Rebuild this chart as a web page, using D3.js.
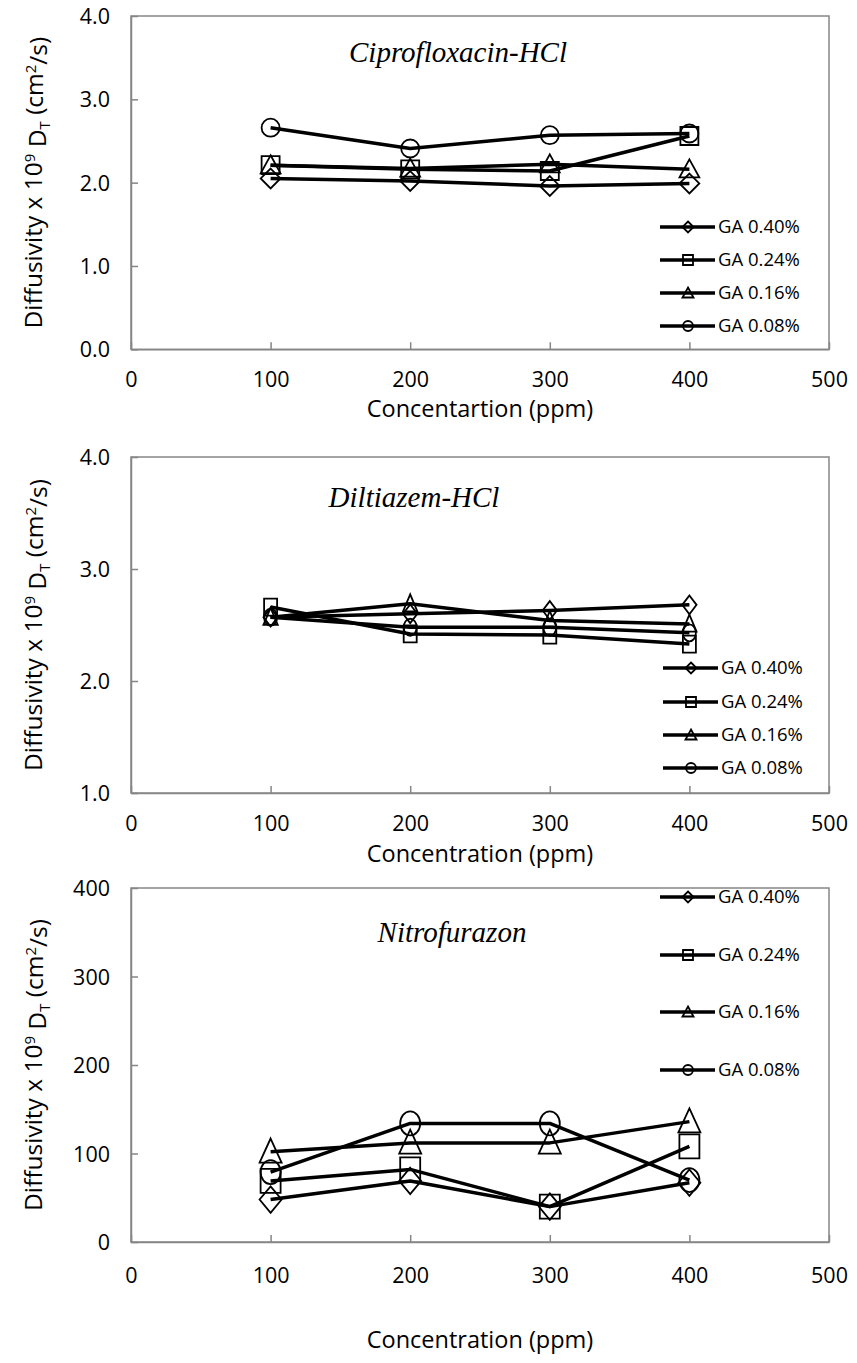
<!DOCTYPE html>
<html>
<head>
<meta charset="utf-8">
<script src="https://cdn.jsdelivr.net/npm/d3@7"></script>
<style>
  body { margin: 0; background: #fff; }
  svg { display: block; }
</style>
</head>
<body>
<script>
/* DATA */
var concentrations = [100, 200, 300, 400];
var seriesNames = ['GA 0.40%', 'GA 0.24%', 'GA 0.16%', 'GA 0.08%'];
var seriesShapes = ['diamond', 'square', 'triangle', 'circle'];
var xTicks = [0, 100, 200, 300, 400, 500];

// Ciprofloxacin-HCl
var cipro040 = [2.05, 2.02, 1.96, 1.99];
var cipro024 = [2.21, 2.16, 2.14, 2.56];
var cipro016 = [2.21, 2.17, 2.22, 2.16];
var cipro008 = [2.66, 2.41, 2.57, 2.59];
var ciproTicks = [0, 1, 2, 3, 4];

// Diltiazem-HCl
var dilt040 = [2.57, 2.60, 2.63, 2.68];
var dilt024 = [2.66, 2.42, 2.41, 2.33];
var dilt016 = [2.57, 2.69, 2.54, 2.51];
var dilt008 = [2.57, 2.48, 2.48, 2.43];
var diltTicks = [1, 2, 3, 4];

// Nitrofurazon
var nitro040 = [48, 69, 40, 67];
var nitro024 = [69, 82, 40, 108];
var nitro016 = [102, 112, 112, 136];
var nitro008 = [79, 134, 134, 70];
var nitroTicks = [0, 100, 200, 300, 400];

/* LAYOUT */
var width = 857, height = 1363;
var plotLeft = 131, plotRight = 829;
var axisColor = '#868686';
var tickFont = '"Open Sans", "Noto Sans", sans-serif';
var titleFont = '"Liberation Serif", "Times New Roman", serif';

var charts = [
  { series: [cipro040, cipro024, cipro016, cipro008], ticks: ciproTicks, fmt: '.1f',
    top: 16, bottom: 349.3, title: 'Ciprofloxacin-HCl', titleX: 458, titleY: 52,
    xTitle: 'Concentartion (ppm)', xTitleY: 409, xLabelY: 379,
    legendY: [227, 260, 293, 326], legendX: 660, mw: 18, mh: 18 },
  { series: [dilt040, dilt024, dilt016, dilt008], ticks: diltTicks, fmt: '.1f',
    top: 457, bottom: 793, title: 'Diltiazem-HCl', titleX: 414, titleY: 497,
    xTitle: 'Concentration (ppm)', xTitleY: 854, xLabelY: 823,
    legendY: [668, 702, 735, 768], legendX: 663, mw: 13, mh: 17 },
  { series: [nitro040, nitro024, nitro016, nitro008], ticks: nitroTicks, fmt: 'd',
    top: 888, bottom: 1242, title: 'Nitrofurazon', titleX: 452, titleY: 932,
    xTitle: 'Concentration (ppm)', xTitleY: 1340, xLabelY: 1275,
    legendY: [897, 955, 1012, 1070], legendX: 660, mw: 20, mh: 24 }
];

// unit marker shapes (fit in -0.5..0.5 box)
var shapePaths = {
  diamond: 'M0,-0.55L0.55,0L0,0.55L-0.55,0Z',
  square: 'M-0.5,-0.5H0.5V0.5H-0.5Z',
  triangle: 'M0,-0.55L0.55,0.45H-0.55Z',
  circle: 'M0.5,0A0.5,0.5 0 1,1 -0.5,0A0.5,0.5 0 1,1 0.5,0Z'
};

var svg = d3.select('body').append('svg')
  .attr('width', width)
  .attr('height', height);

var x = d3.scaleLinear().domain([0, 500]).range([plotLeft, plotRight]);

function drawMarker(g, shape, cx, cy, w, h) {
  g.append('path')
    .attr('d', shapePaths[shape])
    .attr('transform', 'translate(' + cx + ',' + cy + ') scale(' + w + ',' + h + ')')
    .attr('fill', 'none')
    .attr('stroke', '#000')
    .attr('stroke-width', 1.8)
    .attr('vector-effect', 'non-scaling-stroke');
}

charts.forEach(function (c) {
  var y = d3.scaleLinear()
    .domain([c.ticks[0], c.ticks[c.ticks.length - 1]])
    .range([c.bottom, c.top]);
  var g = svg.append('g');

  // plot area box
  g.append('rect')
    .attr('x', plotLeft).attr('y', c.top)
    .attr('width', plotRight - plotLeft).attr('height', c.bottom - c.top)
    .attr('fill', 'none').attr('stroke', axisColor).attr('stroke-width', 1.5);

  // axes, ticks pointing inward
  var yAxis = g.append('g').attr('transform', 'translate(' + plotLeft + ',0)')
    .call(d3.axisLeft(y).tickValues(c.ticks).tickSizeInner(-7).tickSizeOuter(0)
      .tickPadding(21).tickFormat(d3.format(c.fmt)));
  var xAxis = g.append('g').attr('transform', 'translate(0,' + c.bottom + ')')
    .call(d3.axisBottom(x).tickValues(xTicks).tickSizeInner(-7).tickSizeOuter(0)
      .tickPadding(0).tickFormat(d3.format('d')));
  [yAxis, xAxis].forEach(function (a) {
    a.select('.domain').attr('stroke', axisColor).attr('stroke-width', 1.5);
    a.selectAll('.tick line').attr('stroke', axisColor).attr('stroke-width', 1.5);
    a.selectAll('.tick text').attr('fill', '#000')
      .style('font-family', tickFont).style('font-size', '21.5px');
  });
  yAxis.selectAll('.tick text').attr('dy', '0.35em');
  xAxis.selectAll('.tick text').attr('y', c.xLabelY - c.bottom).attr('dy', '0.35em');

  // series: line, then its markers
  var line = d3.line()
    .x(function (d, i) { return x(concentrations[i]); })
    .y(function (d) { return y(d); });
  c.series.forEach(function (vals, si) {
    g.append('path')
      .attr('d', line(vals))
      .attr('fill', 'none')
      .attr('stroke', '#000')
      .attr('stroke-width', 3.5)
      .attr('stroke-linejoin', 'round');
    vals.forEach(function (v, i) {
      drawMarker(g, seriesShapes[si], x(concentrations[i]), y(v), c.mw, c.mh);
    });
  });

  // chart title
  g.append('text')
    .attr('x', c.titleX).attr('y', c.titleY)
    .attr('text-anchor', 'middle').attr('dy', '0.35em')
    .style('font-family', titleFont).style('font-style', 'italic')
    .style('font-size', '29px')
    .text(c.title);

  // x title
  g.append('text')
    .attr('x', (plotLeft + plotRight) / 2).attr('y', c.xTitleY)
    .attr('text-anchor', 'middle').attr('dy', '0.35em')
    .style('font-family', tickFont).style('font-size', '23.5px')
    .text(c.xTitle);

  // y title with super/subscripts
  var yt = g.append('text')
    .attr('transform', 'translate(33,' + (c.top + c.bottom) / 2 + ') rotate(-90)')
    .attr('text-anchor', 'middle').attr('dy', '0.35em')
    .style('font-family', tickFont).style('font-size', '24.5px');
  yt.append('tspan').text('Diffusivity x 10');
  yt.append('tspan').attr('dy', '-0.45em').style('font-size', '15px').text('9');
  yt.append('tspan').attr('dy', '0.45em').text(' D');
  yt.append('tspan').attr('dy', '0.3em').style('font-size', '15px').text('T');
  yt.append('tspan').attr('dy', '-0.3em').text(' (cm');
  yt.append('tspan').attr('dy', '-0.45em').style('font-size', '15px').text('2');
  yt.append('tspan').attr('dy', '0.45em').text('/s)');

  // legend
  c.legendY.forEach(function (ly, si) {
    var lg = g.append('g');
    lg.append('line')
      .attr('x1', c.legendX).attr('x2', c.legendX + 55).attr('y1', ly).attr('y2', ly)
      .attr('stroke', '#000').attr('stroke-width', 3.5);
    drawMarker(lg, seriesShapes[si], c.legendX + 28, ly, 10, 10);
    lg.append('text')
      .attr('x', c.legendX + 58).attr('y', ly).attr('dy', '0.35em')
      .style('font-family', tickFont).style('font-size', '18.5px')
      .text(seriesNames[si]);
  });
});
</script>
</body>
</html>
